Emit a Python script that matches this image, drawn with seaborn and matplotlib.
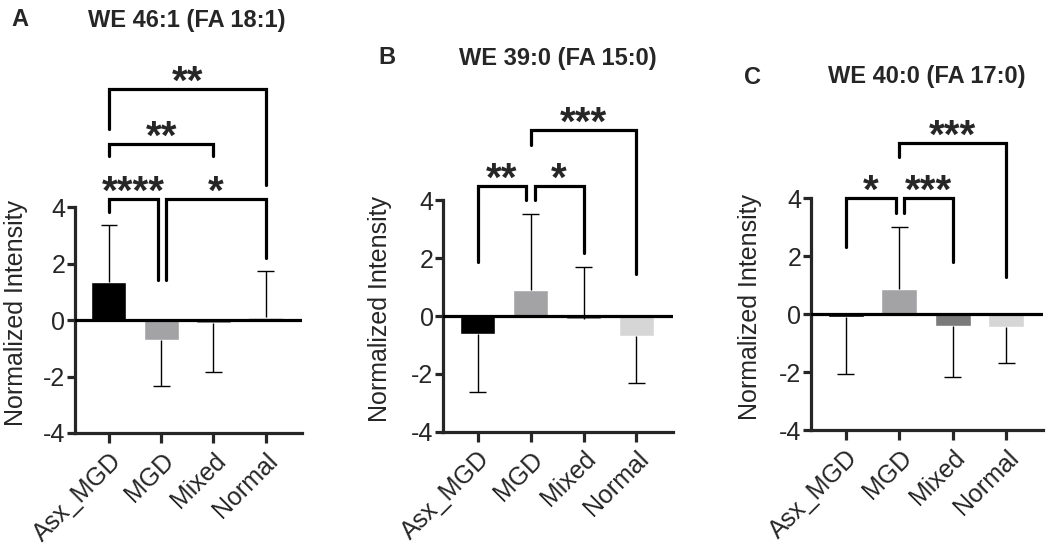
import numpy as np
import pandas as pd
import matplotlib
matplotlib.use("Agg")
import matplotlib.pyplot as plt
import seaborn as sns

sns.set_style("ticks")
plt.rcParams['font.family'] = ['Liberation Sans', 'DejaVu Sans']
plt.rcParams['axes.unicode_minus'] = False

groups = ["Asx_MGD", "MGD", "Mixed", "Normal"]
bar_colors = ["#000000", "#a3a3a6", "#7a7a7a", "#d6d6d6"]

# panel A: WE 46:1 (FA 18:1)
means_a = [1.35, -0.70, -0.10, 0.12]
err_end_a = [3.38, -2.35, -1.85, 1.72]
# panel B: WE 39:0 (FA 15:0)
means_b = [-0.62, 0.90, -0.10, -0.68]
err_end_b = [-2.62, 3.54, 1.71, -2.31]
# panel C: WE 40:0 (FA 17:0)
means_c = [-0.10, 0.85, -0.43, -0.45]
err_end_c = [-2.07, 3.01, -2.18, -1.70]

# significance brackets: (left x, right x, top, left foot, right foot, stars)
sig_a = [(0, 0.93, 4.28, 3.84, 1.42, "****"),
         (1.10, 3, 4.28, 1.42, 2.20, "*"),
         (0, 2, 6.24, 5.79, 5.79, "**"),
         (0, 3, 8.19, 6.76, 4.79, "**")]
sig_b = [(0, 0.91, 4.51, 1.88, 4.01, "**"),
         (1.08, 2, 4.51, 4.01, 2.17, "*"),
         (1, 3, 6.44, 5.92, 1.45, "***")]
sig_c = [(0, 0.94, 3.99, 2.32, 3.47, "*"),
         (1.09, 2, 3.99, 3.47, 1.80, "***"),
         (1, 3, 5.89, 5.42, 1.29, "***")]

panels = [
    ("A", "WE 46:1 (FA 18:1)", means_a, err_end_a, sig_a,
     [75, 433, 226.7, 226], (20, 187, 20), -0.207),
    ("B", "WE 39:0 (FA 15:0)", means_b, err_end_b, sig_b,
     [443.3, 431.7, 229.7, 231.3], (386.7, 558, 58), -0.223),
    ("C", "WE 40:0 (FA 17:0)", means_c, err_end_c, sig_c,
     [811, 430, 232, 232], (752.7, 926.7, 77), -0.211),
]

W, H = 1050, 551
fig = plt.figure(figsize=(10.5, 5.51), dpi=100)
lw = 2.3

for letter, title, means, ends, sigs, box, tpos, lab_x in panels:
    left, bottom_px, width, height = box
    ax = fig.add_axes([left / W, (H - bottom_px) / H, width / W, height / H])
    df = pd.DataFrame({"group": groups, "value": means})
    sns.barplot(data=df, x="group", y="value", hue="group", palette=bar_colors,
                width=0.67, legend=False, ax=ax, saturation=1, errorbar=None)
    xs = np.arange(len(groups))
    ax.vlines(xs, means, ends, color="black", lw=1.0, zorder=3)
    ax.hlines(ends, xs - 0.16, xs + 0.16, color="black", lw=1.0, zorder=3)
    ax.axhline(0, color="black", lw=lw, zorder=4)

    ax.set_xlim(-0.65, 3.69)
    ax.set_ylim(-4, 4)
    ax.set_yticks([-4, -2, 0, 2, 4])
    ax.set_xticks(xs)
    ax.set_xticklabels(groups, rotation=45, ha="right", rotation_mode="anchor",
                       fontsize=18)
    ax.tick_params(axis="y", labelsize=18, length=6, width=lw, pad=1)
    ax.tick_params(axis="x", length=7, width=lw, pad=4)
    sns.despine(ax=ax)
    for s in ["left", "bottom"]:
        ax.spines[s].set_linewidth(lw)
    ax.set_xlabel("")
    ax.set_ylabel("Normalized Intensity", fontsize=18)
    ax.yaxis.set_label_coords(lab_x, 0.53)

    for x1, x2, top, f1, f2, stars in sigs:
        ax.plot([x1, x1, x2, x2], [f1, top, top, f2], color="black", lw=lw,
                clip_on=False, solid_joinstyle="miter", zorder=5)
        ax.annotate(stars, ((x1 + x2) / 2, top), xytext=(0, -3.5),
                    textcoords="offset points", ha="center", va="baseline",
                    fontsize=29, fontweight="bold", annotation_clip=False)

    lx, tx, ty = tpos
    fig.text(lx / W, 1 - ty / H, letter, fontsize=17, fontweight="bold",
             ha="center", va="center")
    fig.text(tx / W, 1 - ty / H, title, fontsize=17, fontweight="bold",
             ha="center", va="center")

fig.savefig("out.png", dpi=100)
